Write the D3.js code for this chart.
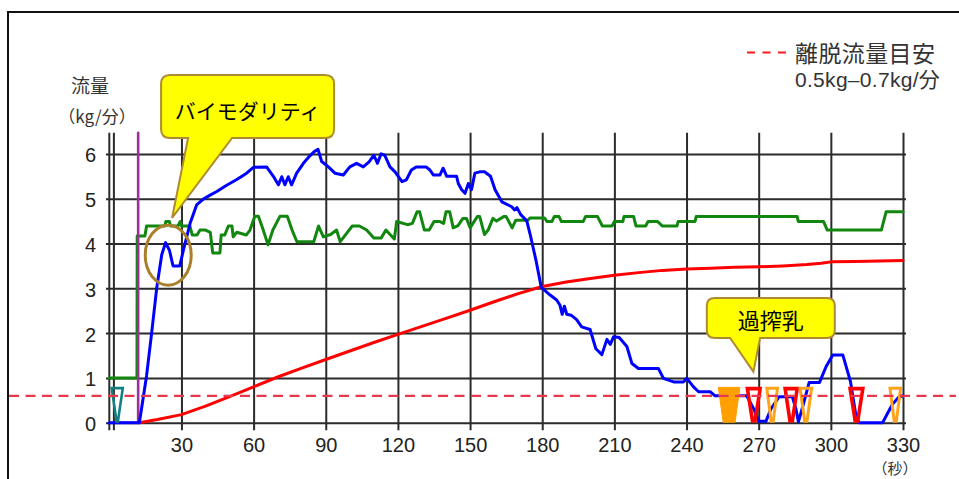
<!DOCTYPE html>
<html><head><meta charset="utf-8">
<script src="https://cdn.jsdelivr.net/npm/d3@7"></script>
<style>
html,body{margin:0;padding:0;background:#fff;}
svg{display:block;}
</style></head>
<body>
<svg id="chart" width="959" height="479"></svg>
<script>
// ---------- data ----------
const xTicks = [30,60,90,120,150,180,210,240,270,300,330];
const xTickLabels = ["30","60","90","120","150","180","210","240","270","300","330"];
const yTicks = [0,1,2,3,4,5,6];
const yTickLabels = ["0","1","2","3","4","5","6"];

// blue: 流量 (kg/分) over time (秒)
const blueFlow = [[0,0],[12.5,0],[15.5,1.05],[17.6,2.0],[19.7,3.0],[21.8,3.75],[23.4,4.02],[25,3.85],[26.5,3.5],[29.3,3.5],[30.8,3.85],[33.6,4.45],[36.3,4.86],[39.1,4.99],[41.9,5.08],[44.7,5.16],[48.8,5.3],[53,5.43],[57.1,5.57],[59.9,5.7],[65.4,5.71],[68.2,5.5],[70.3,5.31],[71.7,5.49],[73,5.31],[74.4,5.49],[75.8,5.31],[77.9,5.57],[80.7,5.79],[83.1,5.94],[85.2,6.05],[86.8,6.1],[88.3,5.83],[91.1,5.71],[93.8,5.57],[97.3,5.53],[100,5.71],[102.8,5.79],[105.6,5.71],[108,5.82],[110,5.97],[111.5,5.79],[113,6.0],[114.5,5.97],[116.7,5.71],[118.8,5.6],[121.7,5.38],[123.5,5.42],[125.6,5.64],[127.6,5.71],[131.7,5.71],[133.3,5.64],[134.7,5.53],[137.5,5.53],[138.8,5.68],[140.3,5.5],[144.4,5.5],[145.1,5.34],[146.5,5.2],[147.9,5.12],[149.3,5.34],[150.6,5.2],[152,5.57],[154,5.6],[156,5.6],[158.5,5.5],[160.4,5.2],[163.2,4.93],[167.3,4.82],[168.5,4.75],[169.5,4.8],[171,4.65],[173.6,4.5],[175,4.2],[177.5,3.6],[179.6,3.02],[183.3,2.85],[186,2.74],[187.4,2.62],[188.3,2.42],[189.2,2.6],[190.2,2.42],[192,2.4],[194.3,2.3],[196.4,2.14],[199.9,2.08],[202.3,1.65],[204.8,1.52],[206.9,1.86],[208.3,1.75],[209.7,1.92],[212,1.9],[215.2,1.7],[217.3,1.32],[220,1.21],[228.3,1.21],[230.4,0.99],[234.6,0.91],[238.7,0.91],[240.1,0.99],[242.9,0.8],[245,0.69],[249.8,0.69],[251.9,0.6],[265,0.6],[268,0.3],[270,0.03],[273,0.03],[275,0.3],[278.5,0.58],[284,0.58],[285.5,0.3],[286.5,0.02],[288,0.3],[291,0.9],[295.3,0.9],[298,1.25],[300.8,1.51],[305,1.51],[308.2,0.91],[310.3,0.2],[311.8,0],[321.5,0],[325.6,0.41],[328.4,0.58],[330,0.6]];

// green series
const greenFlow = [[0,1.0],[11.5,1.0],[11.6,4.17],[14.8,4.17],[15.5,4.39],[23,4.39],[23.5,4.49],[25,4.49],[25.5,4.39],[28.5,4.39],[29.5,4.49],[30,4.39],[33.5,4.39],[34.5,4.19],[36.5,4.19],[37.7,4.3],[40,4.3],[42,4.25],[43,3.79],[46,3.79],[46.5,4.19],[48,4.19],[49.5,4.39],[51,4.39],[51.5,4.15],[53,4.25],[57,4.19],[58.5,4.3],[60.5,4.61],[62,4.61],[64,4.3],[66,3.97],[68,4.3],[71,4.61],[74,4.61],[76,4.3],[78,4.04],[85,4.04],[87,4.39],[89,4.15],[92,4.2],[94.5,4.3],[96,4.04],[99,4.25],[101,4.39],[104,4.39],[107,4.3],[110,4.12],[113,4.12],[115,4.3],[118.5,4.1],[119.5,4.49],[124,4.42],[126,4.45],[128,4.71],[129,4.71],[131,4.3],[133,4.3],[135,4.49],[137.5,4.49],[139,4.45],[140,4.71],[141.5,4.71],[143,4.35],[145,4.4],[147,4.56],[148.5,4.56],[150,4.35],[153,4.6],[154,4.6],[156,4.2],[157.5,4.3],[159.5,4.56],[161,4.5],[164,4.6],[165,4.6],[167.5,4.35],[169,4.52],[174,4.52],[175,4.57],[181,4.57],[182,4.49],[184,4.49],[185,4.6],[187,4.6],[188,4.49],[197,4.49],[198,4.6],[203,4.6],[205,4.39],[209,4.39],[210,4.49],[213.5,4.49],[214,4.6],[218,4.6],[219,4.39],[223,4.39],[224,4.49],[228,4.49],[230,4.39],[236,4.39],[236.5,4.49],[243.5,4.49],[244,4.6],[286,4.6],[286.5,4.49],[297,4.49],[298.5,4.3],[321,4.3],[323,4.71],[330,4.71]];

// red series (cumulative)
const redFlow = [[12.5,0],[20,0.07],[30,0.18],[40,0.37],[50,0.58],[60,0.8],[70,1.02],[80,1.22],[90,1.41],[100,1.6],[110,1.79],[120,1.97],[130,2.15],[140,2.33],[150,2.51],[160,2.7],[170,2.88],[180,3.04],[190,3.14],[200,3.22],[210,3.29],[220,3.35],[230,3.4],[240,3.43],[250,3.45],[260,3.47],[270,3.48],[280,3.5],[290,3.53],[296,3.56],[300,3.59],[310,3.6],[320,3.61],[330,3.62]];

// purple marker line
const purpleLine = [[4,0],[12,0],[12,6.47]];

// threshold guide (離脱流量目安)
const guideValue = 0.6;

// event markers at bottom
const markerTop = 0.8;
const markers = [
  {from:1.0,   to:5.6,   kind:"teal"},
  {from:253.2, to:262.2, kind:"orangeFill"},
  {from:265.3, to:270.6, kind:"red"},
  {from:273.4, to:277.8, kind:"orange"},
  {from:281.0, to:286.0, kind:"red"},
  {from:287.2, to:292.0, kind:"orange"},
  {from:308.0, to:313.3, kind:"red"},
  {from:324.6, to:329.0, kind:"orange"}
];

const yTitle1 = "流量";
const yTitle2 = "（kg/分）";
const xUnit = "（秒）";
const legendLabel1 = "離脱流量目安";
const legendLabel2 = "0.5kg–0.7kg/分";
const note1 = {text:"バイモダリティ", tip:[26.1,4.57], circle:[24.5,3.74]};
const note2 = {text:"過搾乳", tip:[267.8,1.14]};

// ---------- drawing ----------
const W = 959, H = 479;
const svg = d3.select("#chart");
const numFont = "'Liberation Sans', Arial, sans-serif";
const jpFont = "'Noto Sans CJK JP', sans-serif";

const x = d3.scaleLinear().domain([0,330]).range([109.3,903]);
const y = d3.scaleLinear().domain([0,6]).range([422.7,153.9]);
const gridTop = 6.47;
const gridColor = "#2b2b2b";

// frame
svg.append("path").attr("d",`M8,${H} V12 H${W}`).attr("fill","none").attr("stroke","#111").attr("stroke-width",2);

// horizontal grid + y labels
const gy = svg.append("g").attr("transform","translate(106,0)")
  .call(d3.axisLeft(y).tickValues(yTicks).tickFormat((d,i)=>yTickLabels[i])
    .tickSizeInner(-800).tickSizeOuter(0).tickPadding(10));
gy.select(".domain").remove();
gy.attr("font-family",numFont).attr("font-size",20);
gy.selectAll("line").attr("stroke",gridColor).attr("stroke-width",2);
gy.selectAll("text").attr("fill","#222").attr("dy","0.4em");

// vertical grid + x labels
const bottomY = y(0)+7.5;
const gx = svg.append("g").attr("transform",`translate(0,${bottomY})`)
  .call(d3.axisBottom(x).tickValues(xTicks).tickFormat((d,i)=>xTickLabels[i])
    .tickSizeInner(-(bottomY-y(gridTop))).tickSizeOuter(0).tickPadding(8));
gx.select(".domain").remove();
gx.attr("font-family",numFont).attr("font-size",20);
gx.selectAll("line").attr("stroke",gridColor).attr("stroke-width",2);
gx.selectAll("text").attr("fill","#222");

// left double axis line
[0, 4.6].forEach(off=>{
  svg.append("line").attr("x1",x(0)+off).attr("x2",x(0)+off)
    .attr("y1",y(gridTop)).attr("y2",bottomY)
    .attr("stroke",gridColor).attr("stroke-width",2);
});

const line = d3.line().x(d=>x(d[0])).y(d=>y(d[1]));

function drawSeries(data,color,w){
  svg.append("path").datum(data).attr("d",line)
    .attr("fill","none").attr("stroke",color).attr("stroke-width",w)
    .attr("stroke-linejoin","round").attr("stroke-linecap","round");
}
drawSeries(redFlow,"#ff0000",3);
drawSeries(greenFlow,"#12870f",3);
drawSeries(purpleLine,"#9b2f9b",2.6);
drawSeries(blueFlow,"#0000ff",3);

// markers
const markerStyle = {
  teal:{stroke:"#128080",fill:"none",w:2.6,ratio:0.12},
  orangeFill:{stroke:"#ffa000",fill:"#ffa000",w:1,ratio:0.55},
  red:{stroke:"#ff0000",fill:"none",w:3.6,ratio:0.2},
  orange:{stroke:"#ffa31a",fill:"none",w:3,ratio:0.2}
};
svg.append("g").selectAll("path").data(markers).join("path")
  .attr("d",d=>{
    const s=markerStyle[d.kind];
    const x0=x(d.from), x1=x(d.to), cx=(x0+x1)/2, bw=(x1-x0)*s.ratio;
    const yt=y(markerTop)+s.w/2, yb=y(0)-s.w/2;
    return `M${x0},${yt} L${x1},${yt} L${cx+bw/2},${yb} L${cx-bw/2},${yb} Z`;
  })
  .attr("fill",d=>markerStyle[d.kind].fill)
  .attr("stroke",d=>markerStyle[d.kind].stroke)
  .attr("stroke-width",d=>markerStyle[d.kind].w)
  .attr("stroke-linejoin","miter");

// guide dashed line
svg.append("line").attr("x1",9).attr("x2",956)
  .attr("y1",y(guideValue)).attr("y2",y(guideValue))
  .attr("stroke","#e8374f").attr("stroke-width",2.2).attr("stroke-dasharray","10,6.5");

// axis titles
svg.append("text").text(yTitle1).attr("x",90).attr("y",84)
  .attr("font-family",jpFont).attr("font-size",19).attr("fill","#333")
  .attr("text-anchor","middle").attr("dominant-baseline","central");
svg.append("text").text(yTitle2).attr("x",97).attr("y",115)
  .attr("font-family",jpFont).attr("font-size",17).attr("fill","#333")
  .attr("text-anchor","middle").attr("dominant-baseline","central");
svg.append("text").text(xUnit).attr("x",x(330)-8).attr("y",467.5)
  .attr("font-family",jpFont).attr("font-size",15).attr("fill","#333")
  .attr("text-anchor","middle").attr("dominant-baseline","central");

// legend
svg.append("line").attr("x1",747).attr("x2",786).attr("y1",52.5).attr("y2",52.5)
  .attr("stroke","#ff1a1a").attr("stroke-width",2.2).attr("stroke-dasharray","8,7.5");
svg.append("text").text(legendLabel1).attr("x",795).attr("y",52)
  .attr("font-family",jpFont).attr("font-size",23).attr("letter-spacing",0.4).attr("fill","#333")
  .attr("dominant-baseline","central");
svg.append("text").text(legendLabel2).attr("x",795).attr("y",79)
  .attr("font-family",numFont+", 'Noto Sans CJK JP'").attr("font-size",21).attr("letter-spacing",0.3).attr("fill","#333")
  .attr("dominant-baseline","central");

// callouts
function balloon(x0,y0,w,h,r,bl,br,tx,ty){
  return `M${x0+r},${y0} H${x0+w-r} Q${x0+w},${y0} ${x0+w},${y0+r} V${y0+h-r} Q${x0+w},${y0+h} ${x0+w-r},${y0+h} H${br} L${tx},${ty} L${bl},${y0+h} H${x0+r} Q${x0},${y0+h} ${x0},${y0+h-r} V${y0+r} Q${x0},${y0} ${x0+r},${y0} Z`;
}
{
  const tx=x(note1.tip[0]), ty=y(note1.tip[1]);
  const bx=tx-11, by=ty-143, bw=173, bh=63;
  svg.append("ellipse").attr("cx",x(note1.circle[0])).attr("cy",y(note1.circle[1]))
    .attr("rx",23).attr("ry",30).attr("fill","none").attr("stroke","#a97f2c").attr("stroke-width",3);
  svg.append("path").attr("d",balloon(bx,by,bw,bh,9,tx+16,tx+60,tx,ty))
    .attr("fill","#ffff00").attr("stroke","#b08a30").attr("stroke-width",2);
  svg.append("text").text(note1.text).attr("x",bx+bw/2).attr("y",by+bh/2+4)
    .attr("font-family",jpFont).attr("font-size",21).attr("fill","#000")
    .attr("text-anchor","middle").attr("dominant-baseline","central");
}
{
  const tx=x(note2.tip[0]), ty=y(note2.tip[1]);
  const bx=tx-46.6, by=ty-73.7, bw=128, bh=40;
  svg.append("path").attr("d",balloon(bx,by,bw,bh,8,tx-23.3,tx+6.7,tx,ty))
    .attr("fill","#ffff00").attr("stroke","#b08a30").attr("stroke-width",2);
  svg.append("text").text(note2.text).attr("x",bx+bw/2).attr("y",by+bh/2+1)
    .attr("font-family",jpFont).attr("font-size",22).attr("fill","#000")
    .attr("text-anchor","middle").attr("dominant-baseline","central");
}
</script>
</body></html>
